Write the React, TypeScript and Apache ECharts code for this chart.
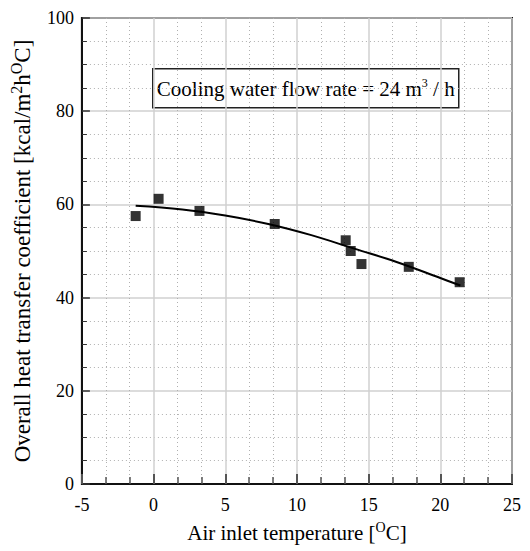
import React, { useEffect, useRef } from "react";
import * as echarts from "echarts";

const tempX = [-1.25, 0.35, 3.2, 8.45, 13.4, 13.75, 14.5, 17.8, 21.35];
const coefY = [57.5, 61.2, 58.6, 55.8, 52.3, 50.0, 47.2, 46.6, 43.3];

const fitX = [-1.25, 2, 5, 8, 11, 14, 17, 20, 21.4];
const fitY = [59.7, 58.9, 57.6, 55.8, 53.4, 50.5, 47.6, 44.2, 42.6];

const xTitle = "Air inlet temperature [{sup|O}C]";
const yTitle = "Overall heat transfer coefficient [kcal/m{sup|2}h{sup|O}C]";
const noteText = "Cooling water flow rate = 24 m{sup3|3} / h";

const FONT = "Times New Roman";

export default function App() {
  const ref = useRef<HTMLDivElement>(null);
  useEffect(() => {
    if (!ref.current) return;
    const chart = echarts.init(ref.current, null, { renderer: "svg" });
    const points = tempX.map((x, i) => [x, coefY[i]]);
    const fit = fitX.map((x, i) => [x, fitY[i]]);
    chart.setOption({
      animation: false,
      backgroundColor: "#fff",
      grid: {
        left: 79,
        right: 18,
        top: 18,
        bottom: 61,
        show: true,
        borderColor: "#111",
        borderWidth: 2,
        backgroundColor: "transparent",
      },
      xAxis: {
        type: "value",
        min: -5,
        max: 25,
        interval: 5,
        name: xTitle,
        nameLocation: "middle",
        nameGap: 36,
        nameTextStyle: {
          fontSize: 21,
          fontFamily: FONT,
          color: "#000",
          lineHeight: 26,
          rich: {
            sup: { fontSize: 14, fontFamily: FONT, color: "#000", verticalAlign: "top", lineHeight: 26 },
          },
        },
        axisLine: { show: true, onZero: false, lineStyle: { color: "#111", width: 2 } },
        axisTick: { show: true, inside: true, length: 10, lineStyle: { color: "#555", width: 2 } },
        minorTick: { show: true, splitNumber: 3, length: 7, lineStyle: { color: "#555", width: 1.5 } },
        splitLine: { show: true, lineStyle: { color: "#d0d0d0", width: 1.5 } },
        minorSplitLine: { show: true, lineStyle: { color: "#b0b0b0", width: 1, type: [1, 3] } },
        axisLabel: { fontSize: 18, fontFamily: FONT, color: "#000", margin: 12 },
      },
      yAxis: {
        type: "value",
        min: 0,
        max: 100,
        interval: 20,
        name: yTitle,
        nameLocation: "middle",
        nameRotate: 90,
        nameGap: 35,
        nameTextStyle: {
          fontSize: 23,
          fontFamily: FONT,
          color: "#000",
          lineHeight: 28,
          rich: {
            sup: { fontSize: 16, fontFamily: FONT, color: "#000", verticalAlign: "top", lineHeight: 28 },
          },
        },
        axisLine: { show: true, onZero: false, lineStyle: { color: "#111", width: 2 } },
        axisTick: { show: true, inside: true, length: 8, lineStyle: { color: "#333", width: 1.5 } },
        minorTick: { show: true, splitNumber: 4, length: 5, lineStyle: { color: "#333", width: 1 } },
        splitLine: { show: true, lineStyle: { color: "#d0d0d0", width: 1.5 } },
        minorSplitLine: { show: true, lineStyle: { color: "#b0b0b0", width: 1, type: [1, 3] } },
        axisLabel: { fontSize: 18, fontFamily: FONT, color: "#000", margin: 8 },
      },
      series: [
        {
          type: "line",
          data: fit,
          smooth: 0.4,
          showSymbol: false,
          symbol: "none",
          lineStyle: { color: "#000", width: 2 },
          z: 2,
        },
        {
          type: "scatter",
          data: points,
          symbol: "rect",
          symbolSize: 10,
          itemStyle: { color: "#000" },
          z: 3,
        },
      ],
      graphic: [
        {
          type: "group",
          left: 152,
          top: 68,
          z: 10,
          children: [
            {
              type: "rect",
              shape: { x: 0, y: 0, width: 306, height: 39 },
              style: { fill: "#fff", stroke: "#222", lineWidth: 1.5 },
            },
            {
              type: "text",
              x: 153,
              y: 20,
              style: {
                text: noteText,
                fontSize: 21,
                fontFamily: FONT,
                fill: "#000",
                align: "center",
                verticalAlign: "middle",
                rich: {
                  sup3: { fontSize: 12, fontFamily: FONT, fill: "#000", verticalAlign: "top", lineHeight: 24 },
                },
              },
            },
          ],
        },
      ],
    });
    return () => chart.dispose();
  }, []);
  return <div ref={ref} style={{ width: 530, height: 551, position: "absolute", left: 0, top: 0 }} />;
}
